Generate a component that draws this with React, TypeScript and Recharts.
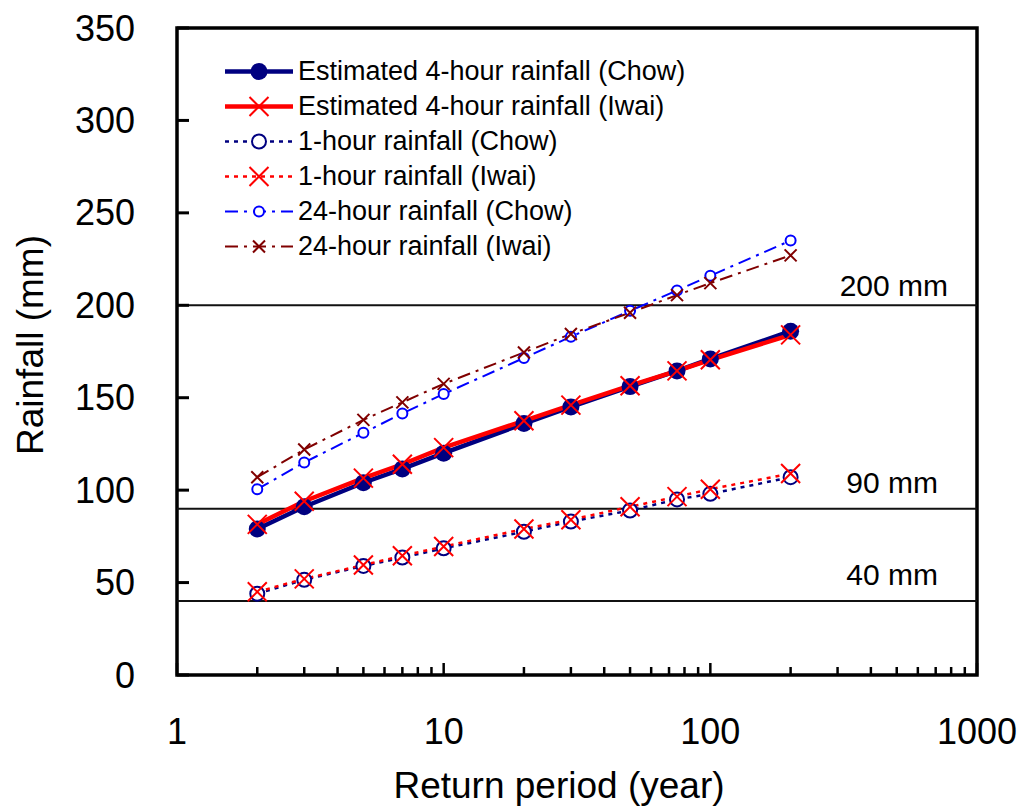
import { LineChart, Line, XAxis, YAxis, ReferenceLine, ReferenceArea } from 'recharts'

const FONT = '"Liberation Sans", Arial, sans-serif'

// return period (years) and rainfall (mm)
const periods = [2, 3, 5, 7, 10, 20, 30, 50, 75, 100, 200]
const est4Chow = [79, 91, 104, 111.5, 120, 136, 145, 156, 164.5, 171, 186]
const est4Iwai = [81.5, 94, 106.5, 114, 123, 137.5, 146, 156.5, 164.5, 170.5, 184]
const h1Chow = [44, 51.5, 59, 63.5, 68.5, 77.5, 83, 89, 95, 98, 107]
const h1Iwai = [45, 52, 59.5, 64.5, 69.5, 79, 84, 91, 96.5, 100.5, 109]
const h24Chow = [100.5, 115, 131, 141.5, 152, 171.5, 183, 197, 208, 216, 235]
const h24Iwai = [107, 122, 138, 147.5, 157.5, 174.5, 184.5, 196, 205.5, 212, 227]

const xTicks = [1, 2, 3, 4, 5, 6, 7, 8, 9, 10, 20, 30, 40, 50, 60, 70, 80, 90, 100, 200, 300, 400, 500, 600, 700, 800, 900, 1000]
const xLabels = [1, 10, 100, 1000]
const yTicks = [0, 50, 100, 150, 200, 250, 300, 350]
const thresholds = [200, 90, 40]
const thresholdLabels = ['200 mm', '90 mm', '40 mm']

const data = periods.map((p, i) => ({
  period: p,
  est4Chow: est4Chow[i],
  est4Iwai: est4Iwai[i],
  h1Chow: h1Chow[i],
  h1Iwai: h1Iwai[i],
  h24Chow: h24Chow[i],
  h24Iwai: h24Iwai[i],
}))

type Marker = 'dot' | 'bigX' | 'ring' | 'smallRing' | 'smallX'

const SERIES: Array<{ key: string; name: string; color: string; width: number; dash?: string; marker: Marker }> = [
  { key: 'est4Chow', name: 'Estimated 4-hour rainfall (Chow)', color: '#000080', width: 4.5, marker: 'dot' },
  { key: 'est4Iwai', name: 'Estimated 4-hour rainfall (Iwai)', color: '#ff0000', width: 4.5, marker: 'bigX' },
  { key: 'h1Chow', name: '1-hour rainfall (Chow)', color: '#000080', width: 2.5, dash: '4 5', marker: 'ring' },
  { key: 'h1Iwai', name: '1-hour rainfall (Iwai)', color: '#ff0000', width: 2.5, dash: '4 5', marker: 'bigX' },
  { key: 'h24Chow', name: '24-hour rainfall (Chow)', color: '#0000ff', width: 2, dash: '13 6 3 6', marker: 'smallRing' },
  { key: 'h24Iwai', name: '24-hour rainfall (Iwai)', color: '#800000', width: 2, dash: '13 6 3 6', marker: 'smallX' },
]

function markerShape(kind: Marker, cx: number, cy: number, color: string, key?: string | number) {
  if (kind === 'dot') return <circle key={key} cx={cx} cy={cy} r={8.5} fill={color} />
  if (kind === 'ring') return <circle key={key} cx={cx} cy={cy} r={7} fill="#fff" stroke={color} strokeWidth={2} />
  if (kind === 'smallRing') return <circle key={key} cx={cx} cy={cy} r={5} fill="#fff" stroke={color} strokeWidth={2} />
  const s = kind === 'bigX' ? 9.5 : 6
  return (
    <path
      key={key}
      d={`M${cx - s},${cy - s}L${cx + s},${cy + s}M${cx - s},${cy + s}L${cx + s},${cy - s}`}
      stroke={color}
      strokeWidth={2}
      fill="none"
    />
  )
}

function XTick({ x, y, payload }: any) {
  const v = payload.value
  const major = xLabels.includes(v)
  return (
    <g>
      <line x1={x} y1={y} x2={x} y2={y - (major ? 12 : 8)} stroke="#000" strokeWidth={2.5} />
      {major && (
        <text x={x} y={y + 56} textAnchor="middle" dominantBaseline="central" fontSize={36} fontFamily={FONT} fill="#000">
          {v}
        </text>
      )}
    </g>
  )
}

function YTick({ x, y, payload }: any) {
  return (
    <g>
      <line x1={x} y1={y} x2={x + 12} y2={y} stroke="#000" strokeWidth={3} />
      <text x={x - 42} y={y} textAnchor="end" dominantBaseline="central" fontSize={36} fontFamily={FONT} fill="#000">
        {payload.value}
      </text>
    </g>
  )
}

// axis titles placed at fixed spots; own prop names so Recharts' injected props don't move them
function AxisTitle({ cx, cy, turn, text }: { cx: number; cy: number; turn?: boolean; text: string }) {
  return (
    <text
      transform={`translate(${cx},${cy})${turn ? ' rotate(-90)' : ''}`}
      textAnchor="middle"
      dominantBaseline="central"
      fontSize={37}
      fontFamily={FONT}
      fill="#000"
    >
      {text}
    </text>
  )
}

function thresholdLabel(text: string, i: number) {
  return ({ viewBox }: any) => (
    <text
      x={viewBox.x + viewBox.width - (i === 0 ? 29 : 39)}
      y={viewBox.y - (i === 0 ? 9 : 16)}
      textAnchor="end"
      fontSize={30}
      fontFamily={FONT}
      fill="#000"
    >
      {text}
    </text>
  )
}

function LegendBox() {
  return (
    <div style={{ position: 'absolute', left: 225, top: 54, fontFamily: FONT, fontSize: 27, lineHeight: '35px' }}>
      {SERIES.map((s) => (
        <div key={s.key} style={{ display: 'flex', alignItems: 'center', height: 35 }}>
          <svg width={68} height={35} style={{ marginRight: 5 }}>
            <line x1={0} y1={17.5} x2={68} y2={17.5} stroke={s.color} strokeWidth={s.width} strokeDasharray={s.dash} />
            {markerShape(s.marker, 34, 17.5, s.color)}
          </svg>
          <span style={{ whiteSpace: 'nowrap' }}>{s.name}</span>
        </div>
      ))}
    </div>
  )
}

export default function App() {
  return (
    <div style={{ position: 'relative', width: 1024, height: 809, background: '#fff' }}>
      <style>{'body{margin:0}'}</style>
      <LineChart width={1024} height={809} data={data} margin={{ top: 28, right: 47, bottom: 0, left: 0 }}>
        <XAxis
          dataKey="period"
          type="number"
          scale="log"
          domain={[1, 1000]}
          ticks={xTicks}
          interval={0}
          allowDataOverflow
          height={134}
          axisLine={false}
          tickLine={false}
          tickSize={0}
          tickMargin={0}
          tick={<XTick />}
          label={<AxisTitle cx={559} cy={785} text="Return period (year)" />}
        />
        <YAxis
          type="number"
          domain={[0, 350]}
          ticks={yTicks}
          interval={0}
          width={177}
          axisLine={false}
          tickLine={false}
          tickSize={0}
          tickMargin={0}
          tick={<YTick />}
          label={<AxisTitle cx={30} cy={345} turn text="Rainfall (mm)" />}
        />
        {thresholds.map((t, i) => (
          <ReferenceLine key={t} y={t} stroke="#111" strokeWidth={2} label={thresholdLabel(thresholdLabels[i], i)} />
        ))}
        {SERIES.map((s) => (
          <Line
            key={s.key}
            dataKey={s.key}
            name={s.name}
            stroke={s.color}
            strokeWidth={s.width}
            strokeDasharray={s.dash}
            isAnimationActive={false}
            dot={(p: any) => markerShape(s.marker, p.cx, p.cy, s.color, `${s.key}-${p.index}`)}
            activeDot={false}
          />
        ))}
        <ReferenceArea x1={1} x2={1000} y1={0} y2={350} fill="none" stroke="#000" strokeWidth={3.5} ifOverflow="visible" />
      </LineChart>
      <LegendBox />
    </div>
  )
}
